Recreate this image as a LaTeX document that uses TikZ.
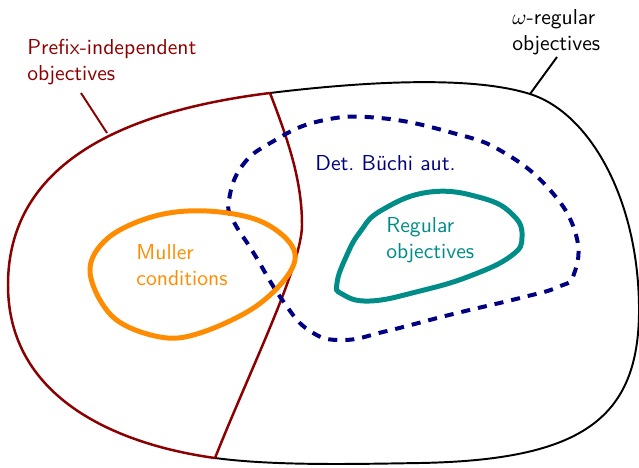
\documentclass[tikz,border=0pt]{standalone}
\usepackage{xcolor}
\usepackage{amsmath, amsfonts, amssymb}
\usepackage{tikz}

\definecolor{prefixred}{RGB}{139,0,0}
\definecolor{mullerorange}{RGB}{255,140,0}
\definecolor{regularteal}{RGB}{0,140,135}
\definecolor{buchinavy}{RGB}{0,0,128}

\begin{document}
\begin{tikzpicture}[x=0.01626cm, y=-0.01626cm, font=\sffamily,
        label text/.style={align=left, inner sep=0pt, anchor=north west}]
        \useasboundingbox (0,0) rectangle (639,467);

        % outer set, right (omega-regular) part
        \draw[line width=0.9pt] (270,93) .. controls (360,82) and (470,75) .. (530,94)
            .. controls (590,113) and (639,200) .. (639,310)
            .. controls (639,420) and (580,460) .. (420,463)
            .. controls (356,464) and (275,466) .. (215,458);
        % prefix-independent part
        \draw[prefixred, line width=1.15pt] (270,93) .. controls (150,108) and (8,150) .. (8,285)
            .. controls (8,400) and (120,445) .. (215,458);
        \draw[prefixred, line width=1.15pt] (270,93) .. controls (288,140) and (302,180) .. (302,225)
            .. controls (302,265) and (250,370) .. (215,458);

        % deterministic Buchi automata
        \draw[buchinavy, line width=1.85pt, dash pattern=on 4.2pt off 3.7pt] plot[smooth cycle, tension=0.75] coordinates {(229,200) (242,166) (272,142) (320,121) (380,118) (453,133) (503,152) (550,190) (576,235) (574,274) (558,287) (520,298) (453,314) (387,331) (343,340) (310,331) (283,301) (253,252) (233,220)};

        % Muller conditions
        \draw[mullerorange, line width=2.3pt] plot[smooth cycle, tension=0.6] coordinates {(90,272) (108,238) (155,216) (207,211) (260,221) (292,246) (290,272) (255,307) (200,333) (160,337) (113,317)};

        % regular objectives
        \draw[regularteal, line width=2.3pt] plot[smooth cycle, tension=0.75] coordinates {(337,283) (346,257) (360,232) (382,210) (430,192) (482,198) (513,215) (522,237) (511,256) (470,276) (420,291) (370,301) (342,294)};

        % labels
        \node[label text, prefixred] (prefix) at (27,39) {Prefix-independent\\objectives};
        \node[label text] (omega) at (512,9) {$\omega$-regular\\objectives};
        \node[buchinavy, inner sep=0pt, anchor=base west] (buchi) at (315,170) {Det.\ B\"uchi aut.};
        \node[label text, regularteal] (regular) at (386,217) {Regular\\objectives};
        \node[label text, mullerorange] (muller) at (136,244) {Muller\\conditions};

        \coordinate (prefixfoot) at (81,93);
        \coordinate (prefixtip) at (107,133);
        \coordinate (omegafoot) at (557,57);
        \coordinate (omegatip) at (530,94);
        \draw[prefixred, line width=0.9pt] (prefixfoot) -- (prefixtip);
        \draw[line width=0.9pt] (omegafoot) -- (omegatip);
    \end{tikzpicture}
\end{document}
